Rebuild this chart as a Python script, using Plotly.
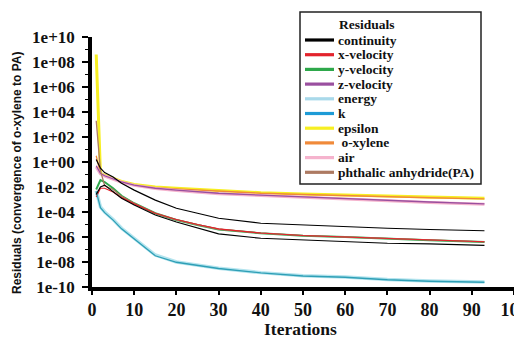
import plotly.graph_objects as go

# ---------------- data ----------------
iterations = [1, 2, 3, 5, 7, 10, 15, 20, 25, 30, 40, 50, 60, 70, 80, 93]

# residuals given as log10 exponents
continuity_log10 = [0.2, -0.5, -0.85, -1.2, -1.7, -2.25, -3.05, -3.7, -4.1, -4.5, -4.9, -5.05, -5.2, -5.3, -5.4, -5.5]
continuity_low_log10 = [-2.6, -2.0, -1.85, -2.4, -2.9, -3.44, -4.24, -4.8, -5.3, -5.75, -6.1, -6.25, -6.4, -6.5, -6.55, -6.67]
x_velocity_log10 = [-2.8, -2.1, -2.1, -2.4, -2.85, -3.35, -4.1, -4.6, -5.0, -5.35, -5.68, -5.88, -6.0, -6.12, -6.22, -6.38]
y_velocity_log10 = [-2.2, -1.45, -1.6, -2.1, -2.7, -3.3, -4.1, -4.64, -5.04, -5.4, -5.7, -5.9, -6.0, -6.15, -6.25, -6.4]
z_velocity_log10 = [-0.3, -0.9, -1.1, -1.35, -1.6, -1.85, -2.1, -2.25, -2.4, -2.5, -2.65, -2.8, -2.95, -3.1, -3.2, -3.35]
energy_log10 = [-2.3, -3.6, -4.0, -4.6, -5.3, -6.1, -7.44, -8.0, -8.24, -8.5, -8.85, -9.1, -9.2, -9.4, -9.52, -9.6]
k_log10 = [-2.35, -3.65, -4.05, -4.65, -5.35, -6.15, -7.5, -8.02, -8.27, -8.52, -8.87, -9.12, -9.22, -9.42, -9.54, -9.62]
epsilon_log10 = [8.6, -0.9, -1.05, -1.3, -1.55, -1.8, -2.0, -2.1, -2.2, -2.3, -2.45, -2.55, -2.65, -2.72, -2.8, -2.9]
o_xylene_log10 = [0.5, -0.95, -1.1, -1.35, -1.6, -1.85, -2.05, -2.15, -2.25, -2.35, -2.5, -2.6, -2.7, -2.78, -2.86, -2.95]
air_log10 = [-0.4, -0.95, -1.12, -1.37, -1.62, -1.87, -2.12, -2.28, -2.42, -2.53, -2.68, -2.83, -2.98, -3.12, -3.23, -3.38]
pa_log10 = [3.3, -0.7, -1.9, -2.2, -2.75, -3.3, -4.1, -4.62, -5.02, -5.38, -5.69, -5.89, -6.0, -6.13, -6.24, -6.39]

series_names = ["continuity", "x-velocity", "y-velocity", "z-velocity", "energy", "k",
                "epsilon", " o-xylene", "air", "phthalic anhydride(PA)"]
series_colors = ["#000000", "#e3232c", "#2ea84b", "#9a4f9f", "#a9d9ea", "#1d9bd6",
                 "#f7ef22", "#f08a3a", "#f5b3cd", "#ad7a62"]
series_data = [continuity_log10, x_velocity_log10, y_velocity_log10, z_velocity_log10,
               energy_log10, k_log10, epsilon_log10, o_xylene_log10, air_log10, pa_log10]

y_tick_exponents = [10, 8, 6, 4, 2, 0, -2, -4, -6, -8, -10]
y_tick_labels = ["1e+10", "1e+08", "1e+06", "1e+04", "1e+02", "1e+00",
                 "1e-02", "1e-04", "1e-06", "1e-08", "1e-10"]
x_tick_values = [0, 10, 20, 30, 40, 50, 60, 70, 80, 90, 100]

# ---------------- figure ----------------
# the page shows the figure offset by the default 8px body margin,
# so the figure is sized to end exactly at the window edge
OFF = 8
W, H = 522 - OFF, 339 - OFF
L, R, T = 92 - OFF, 0, 37 - OFF
B = H - (287 - OFF)
PW, PH = W - L - R, H - T - B


def px(xp):
    """window x pixel -> paper x"""
    return (xp - OFF - L) / PW


def py(yp):
    """window y pixel -> paper y"""
    return (H - B - (yp - OFF)) / PH


fig = go.Figure()

# curve colours in the plot (k curve looks teal where it overlaps the energy glow)
curve_colors = list(series_colors)
curve_colors[5] = "#2e9fb6"
curve_colors[4] = "#b4e4ee"

# draw order / widths (wide pale ones first to mimic the glow)
draw_order = [6, 7, 8, 4, 3, 2, 9, 1, 5, 0]
widths = {0: 1.2, 1: 1.2, 2: 2.0, 3: 1.3, 4: 3.5, 5: 1.3, 6: 3.0, 7: 1.3, 8: 3.0, 9: 1.3}
for i in draw_order:
    fig.add_trace(go.Scatter(
        x=iterations, y=[10 ** v for v in series_data[i]], mode="lines",
        name=series_names[i], showlegend=False,
        line=dict(color=curve_colors[i], width=widths[i]),
    ))
# second black residual curve
fig.add_trace(go.Scatter(
    x=iterations, y=[10 ** v for v in continuity_low_log10], mode="lines",
    name="continuity", showlegend=False, line=dict(color="#000000", width=1.2),
))

serif = "Liberation Serif"
fig.update_layout(
    width=W, height=H,
    margin=dict(l=L, r=R, t=T, b=B, pad=0, autoexpand=False),
    paper_bgcolor="white", plot_bgcolor="white",
    showlegend=False,
    xaxis=dict(
        range=[0, 100 * PW / 422], tickvals=x_tick_values, automargin=False,
        ticklabeloverflow="allow",
        ticks="outside", ticklen=4, tickwidth=1.5, tickcolor="black",
        showline=True, linewidth=3.5, linecolor="black",
        showgrid=False, zeroline=False,
        tickfont=dict(family=serif, size=18, color="#111", weight="bold"),
    ),
    yaxis=dict(
        type="log", range=[-10, 10], automargin=False,
        tickvals=[10 ** e for e in y_tick_exponents], ticktext=y_tick_labels,
        ticks="outside", ticklen=6, tickwidth=1.5, tickcolor="black",
        ticklabelstandoff=4,
        minor=dict(tickvals=[10 ** (e - 1) for e in y_tick_exponents[:-1]],
                   ticks="outside", ticklen=3, tickcolor="black", tickwidth=1),
        showline=True, linewidth=3.5, linecolor="black",
        showgrid=False, zeroline=False,
        tickfont=dict(family=serif, size=17, color="#111", weight="bold"),
    ),
)

shapes = []
annotations = []

# legend box
shapes.append(dict(type="rect", xref="paper", yref="paper",
                   x0=px(300), x1=px(481), y0=py(184), y1=py(12),
                   line=dict(color="#222", width=1.5), fillcolor="white", layer="above"))
annotations.append(dict(text="Residuals", xref="paper", yref="paper",
                        x=px(337), y=py(25), xanchor="left", yanchor="middle",
                        showarrow=False,
                        font=dict(family=serif, size=13.5, color="#111", weight="bold")))
row0, step = 40.0, 14.7
for i, (name, col) in enumerate(zip(series_names, series_colors)):
    yy = row0 + i * step
    shapes.append(dict(type="line", xref="paper", yref="paper",
                       x0=px(305), x1=px(334), y0=py(yy), y1=py(yy),
                       line=dict(color=col, width=3.2), layer="above"))
    annotations.append(dict(text=name, xref="paper", yref="paper",
                            x=px(336), y=py(yy), xanchor="left", yanchor="middle",
                            showarrow=False,
                            font=dict(family=serif, size=13.5, color="#111", weight="bold")))

# axis titles
annotations.append(dict(text="Iterations", xref="paper", yref="paper",
                        x=px(300), y=py(329), xanchor="center", yanchor="middle",
                        showarrow=False,
                        font=dict(family=serif, size=17.5, color="#111", weight="bold")))
annotations.append(dict(text="Residuals (convergence of o-xylene to PA)",
                        xref="paper", yref="paper", x=px(17), y=py(173),
                        xanchor="center", yanchor="middle", textangle=-90,
                        showarrow=False,
                        font=dict(family="Liberation Sans", size=12, color="#111", weight="bold")))

fig.update_layout(shapes=shapes, annotations=annotations)
fig.write_html("out.html")
